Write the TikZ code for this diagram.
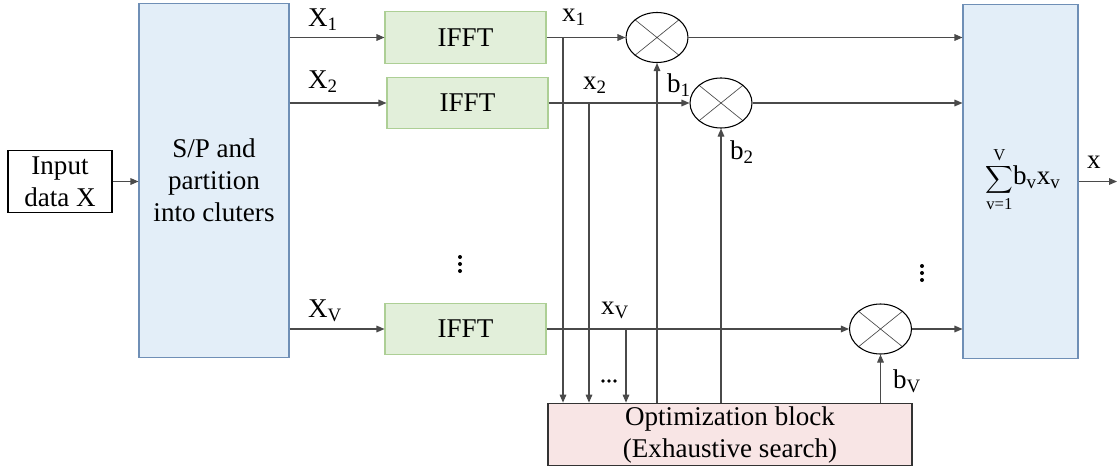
\RequirePackage{fix-cm}
\documentclass[tikz,border=0pt]{standalone}
\usepackage{amsmath}
\usepackage{fontspec}
\setmainfont{Liberation Serif}
\usetikzlibrary{arrows.meta, positioning, shapes.geometric}
\definecolor{cbluef}{HTML}{E3EEF8}
\definecolor{cblued}{HTML}{6F8FB6}
\definecolor{cgreenf}{HTML}{E2EFDA}
\definecolor{cgreend}{HTML}{ADCF95}
\definecolor{credf}{HTML}{F8E5E5}
\definecolor{cline}{HTML}{4A4A4A}
\newcommand{\limfont}{\fontsize{12.5}{12.5}\selectfont}
\tikzset{
  every picture/.style={line width=0.8pt},
  box/.style={draw=#1, align=center, inner sep=2pt},
  spbox/.style={box=cblued, fill=cbluef, minimum width=112.5pt, minimum height=266pt},
  fftbox/.style={box=cgreend, fill=cgreenf, minimum width=120.75pt, minimum height=38.5pt},
  optbox/.style={box=black!80, fill=credf, minimum width=273pt, minimum height=47pt},
  mult/.style={ellipse, draw=black, minimum width=46.5pt, minimum height=37.5pt,
    path picture={\draw[cline, line width=0.5pt]
      (path picture bounding box.north west) -- (path picture bounding box.south east)
      (path picture bounding box.north east) -- (path picture bounding box.south west);}},
  arr/.style={-{Triangle[length=6pt, width=5pt]}, draw=cline},
  lbl/.style={inner sep=0pt},
}
\begin{document}
\begin{tikzpicture}[x=0.75pt, y=-0.75pt, every node/.append style={font=\fontsize{20.3}{24}\selectfont}]
  \useasboundingbox (0,0) rectangle (1117,471);
  % blocks
  \node[box=black, minimum width=78pt, minimum height=47pt] (inp) at (60,181.5) {Input\\data X};
  \node[spbox] (sp) at (214,180.5) {S/P and\\partition\\into cluters};
  \node[fftbox] (ifft1) at (465.5,37.5) {IFFT};
  \node[fftbox] (ifft2) at (467.5,103) {IFFT};
  \node[fftbox] (ifftv) at (465.5,329) {IFFT};
  \node[mult] (mul1) at (657,37.5) {};
  \node[mult] (mul2) at (721,103) {};
  \node[mult] (mulv) at (880.5,329) {};
  \node[spbox, minimum width=86.25pt] (sum) at (1020.5,181.5) {};
  \node[lbl] (sumtxt) at (1023,180) {{\fontsize{14}{14}\selectfont$\displaystyle\sum_{\text{\limfont v=1}}^{\text{\limfont V}}$}$\mathrm{b_v x_v}$};
  \node[optbox] (opt) at (730,434.5) {Optimization block\\(Exhaustive search)};
  % dots
  \foreach \y in {257,264,271} \fill (460,\y) circle (2);
  \foreach \y in {266,273,280} \fill (922,\y) circle (2);
  \foreach \x in {603,609,615} \fill (\x,381) circle (1.8);
  % connectors
  \coordinate (out) at (1117,181.5);
  \draw[arr] (inp.east) -- (inp.east -| sp.west);
  \draw[arr] (sp.east |- ifft1.west) -- (ifft1.west);
  \draw[arr] (sp.east |- ifft2.west) -- (ifft2.west);
  \draw[arr] (sp.east |- ifftv.west) -- (ifftv.west);
  \draw[arr] (ifft1.east) -- (mul1.west);
  \draw[arr] (ifft2.east) -- (mul2.west);
  \draw[arr] (ifftv.east) -- (mulv.west);
  \draw[arr] (mul1.east) -- (mul1.east -| sum.west);
  \draw[arr] (mul2.east) -- (mul2.east -| sum.west);
  \draw[arr] (mulv.east) -- (mulv.east -| sum.west);
  \draw[arr] (sum.east) -- (out);
  % taps into the optimization block
  \coordinate (t1) at (563,37.5);
  \coordinate (t2) at (589,103);
  \coordinate (tv) at (626,329);
  \foreach \t in {t1,t2,tv} \draw[arr] (\t) -- (\t |- opt.north);
  \draw[arr] (mul1.south |- opt.north) -- (mul1.south);
  \draw[arr] (mul2.south |- opt.north) -- (mul2.south);
  \draw[arr] (mulv.south |- opt.north) -- (mulv.south);
  % labels
  \node[lbl] (lX1) at (323,20) {X$_{\mathrm{1}}$};
  \node[lbl] (lX2) at (323,82) {X$_{\mathrm{2}}$};
  \node[lbl] (lXv) at (325,311) {X$_{\mathrm{V}}$};
  \node[lbl] (lx1) at (574,17) {x$_{\mathrm{1}}$};
  \node[lbl] (lx2) at (595,85) {x$_{\mathrm{2}}$};
  \node[lbl] (lxv) at (615,310) {x$_{\mathrm{V}}$};
  \node[lbl] (lb1) at (679,85) {b$_{\mathrm{1}}$};
  \node[lbl] (lb2) at (742,152) {b$_{\mathrm{2}}$};
  \node[lbl] (lbv) at (907,381) {b$_{\mathrm{V}}$};
  \node[lbl] (lx) at (1094,162) {x};
\end{tikzpicture}
\end{document}
